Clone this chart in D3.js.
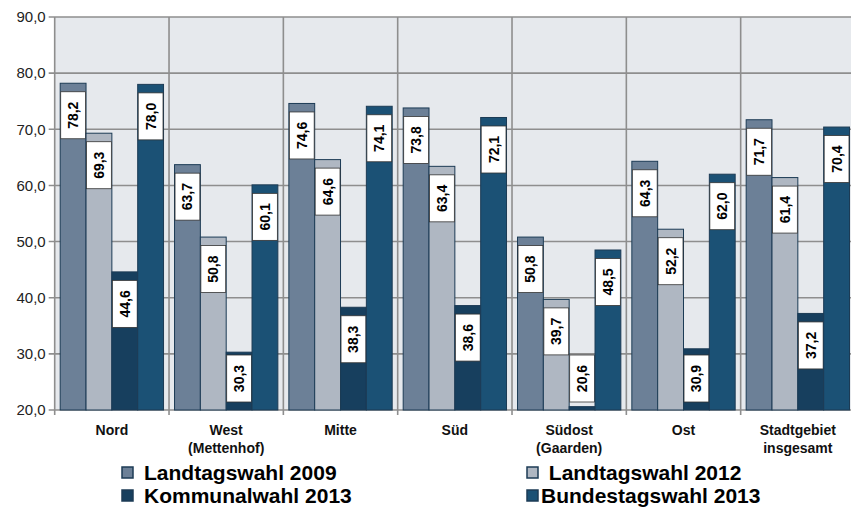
<!DOCTYPE html>
<html>
<head>
<meta charset="utf-8">
<script src="https://cdn.jsdelivr.net/npm/d3@7"></script>
<style>
  body { margin: 0; background: #fff; }
  svg { display: block; }
</style>
</head>
<body>
<div id="chart"></div>
<script>
// categories (two-line labels)
const categories = ["Nord", "West (Mettenhof)", "Mitte", "Süd", "Südost (Gaarden)", "Ost", "Stadtgebiet insgesamt"];
const categoryLines = [["Nord"], ["West", "(Mettenhof)"], ["Mitte"], ["Süd"], ["Südost", "(Gaarden)"], ["Ost"], ["Stadtgebiet", "insgesamt"]];

const seriesNames = ["Landtagswahl 2009", "Landtagswahl 2012", "Kommunalwahl 2013", "Bundestagswahl 2013"];
const landtag2009 = [78.2, 63.7, 74.6, 73.8, 50.8, 64.3, 71.7];
const landtag2012 = [69.3, 50.8, 64.6, 63.4, 39.7, 52.2, 61.4];
const kommunal2013 = [44.6, 30.3, 38.3, 38.6, 20.6, 30.9, 37.2];
const bundestag2013 = [78.0, 60.1, 74.1, 72.1, 48.5, 62.0, 70.4];

const yTicks = [20, 30, 40, 50, 60, 70, 80, 90];
const colors = ["#6c8097", "#afb7c2", "#173f5e", "#1b5175"];

const seriesValues = [landtag2009, landtag2012, kommunal2013, bundestag2013];

const W = 851, H = 508;
const margin = {top: 17, left: 54.7, right: -4, bottom: 98};
const plotW = W - margin.left - margin.right;
const plotH = H - margin.top - margin.bottom;

const fmt = v => d3.format(".1f")(v).replace(".", ",");

const svg = d3.select("#chart").append("svg")
  .attr("width", W).attr("height", H)
  .attr("font-family", "'Liberation Sans', Arial, sans-serif");

const x = d3.scaleBand().domain(categories).range([0, plotW]).padding(0);
const xi = d3.scaleBand().domain(seriesNames).range([5.5, x.bandwidth() - 5.5]).padding(0);
const y = d3.scaleLinear().domain([20, 90]).range([plotH, 0]);

const g = svg.append("g").attr("transform", `translate(${margin.left},${margin.top})`);

// background
g.append("rect").attr("width", plotW).attr("height", plotH).attr("fill", "#e6e9ed");

// horizontal grid
g.selectAll(".hgrid").data(yTicks).join("line")
  .attr("x1", -6).attr("x2", plotW)
  .attr("y1", d => y(d)).attr("y2", d => y(d))
  .attr("stroke", "#8e8e8e").attr("stroke-width", 1.6);

// vertical separators
const seps = d3.range(categories.length + 1).map(i => i * x.bandwidth());
g.selectAll(".vgrid").data(seps).join("line")
  .attr("x1", d => d).attr("x2", d => d)
  .attr("y1", 0).attr("y2", plotH + 5)
  .attr("stroke", "#8e8e8e").attr("stroke-width", 1.6);

// y labels
g.selectAll(".ylab").data(yTicks).join("text")
  .attr("x", -9).attr("y", d => y(d)).attr("dy", "0.35em")
  .attr("text-anchor", "end").attr("font-size", 15).attr("fill", "#222")
  .text(d => fmt(d));

// bars
const rows = [];
categories.forEach((c, ci) => seriesNames.forEach((s, si) => rows.push({c, s, si, v: seriesValues[si][ci]})));

const bar = g.selectAll(".bar").data(rows).join("g")
  .attr("transform", d => `translate(${x(d.c) + xi(d.s)},0)`);

bar.append("rect")
  .attr("y", d => y(d.v)).attr("width", xi.bandwidth())
  .attr("height", d => plotH - y(d.v))
  .attr("fill", d => colors[d.si])
  .attr("stroke", "#1c3b55").attr("stroke-width", 1);

const boxH = 47;
const boxTop = d => Math.min(y(d.v) + 8.5, plotH - 8 - boxH);

bar.append("rect")
  .attr("x", 0.5).attr("y", boxTop)
  .attr("width", xi.bandwidth() - 1).attr("height", boxH)
  .attr("fill", "#fff").attr("stroke", "#333").attr("stroke-width", 0.8);

bar.append("text")
  .attr("transform", d => `translate(${xi.bandwidth() / 2},${boxTop(d) + boxH / 2}) rotate(-90)`)
  .attr("text-anchor", "middle").attr("dy", "0.36em")
  .attr("font-size", 14).attr("font-weight", "bold").attr("fill", "#000")
  .text(d => fmt(d.v));

// x labels
const xl = g.selectAll(".xlab").data(categories).join("text")
  .attr("x", d => x(d) + x.bandwidth() / 2)
  .attr("y", plotH + 25)
  .attr("text-anchor", "middle").attr("font-size", 14).attr("font-weight", "bold").attr("fill", "#111");
xl.selectAll("tspan").data((d, i) => categoryLines[i]).join("tspan")
  .attr("x", function() { return d3.select(this.parentNode).attr("x"); })
  .attr("dy", (d, i) => i === 0 ? 0 : 18)
  .text(d => d);

// legend
const legendPos = [[122, 473], [527, 473], [122, 496], [527, 496]];
const legendText = ["Landtagswahl 2009", " Landtagswahl 2012", "Kommunalwahl 2013", "Bundestagswahl 2013"];
const textX = [144, 543, 144, 541];
const lg = svg.selectAll(".leg").data(seriesNames).join("g");
lg.append("rect")
  .attr("x", (d, i) => legendPos[i][0]).attr("y", (d, i) => legendPos[i][1] - 6)
  .attr("width", 11).attr("height", 11)
  .attr("fill", (d, i) => colors[i]).attr("stroke", "#1c3b55").attr("stroke-width", 1.5);
lg.append("text")
  .attr("x", (d, i) => textX[i]).attr("y", (d, i) => legendPos[i][1])
  .attr("dy", "0.34em").attr("xml:space", "preserve")
  .style("white-space", "pre")
  .attr("font-size", 21).attr("font-weight", "bold").attr("fill", "#000")
  .text((d, i) => legendText[i]);
</script>
</body>
</html>
